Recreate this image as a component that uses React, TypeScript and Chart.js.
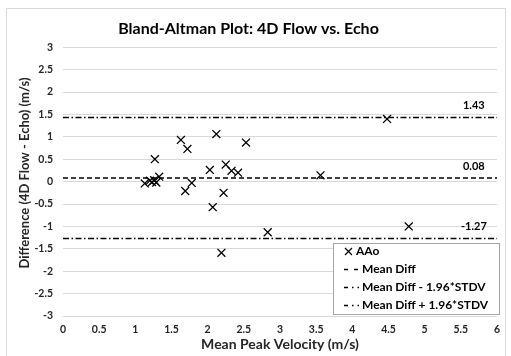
import React, { useEffect, useRef } from "react";
import { Chart, registerables } from "chart.js";
Chart.register(...registerables);

const meanVelocity = [1.13, 1.2, 1.23, 1.26, 1.27, 1.29, 1.33, 1.63, 1.69, 1.72, 1.78, 2.03, 2.07, 2.12, 2.19, 2.22, 2.25, 2.33, 2.42, 2.53, 2.83, 3.56, 4.48, 4.78];
const difference = [-0.04, 0.02, -0.01, 0.03, 0.5, -0.02, 0.11, 0.93, -0.21, 0.73, -0.03, 0.26, -0.57, 1.06, -1.59, -0.25, 0.38, 0.24, 0.2, 0.87, -1.13, 0.14, 1.4, -1.0];
const meanDiff = 0.08;
const lowerLimit = -1.27;
const upperLimit = 1.43;
const xRange = [0, 6];
const yRange = [-3, 3];
const legendLabels = ["AAo", "Mean Diff", "Mean Diff - 1.96*STDV", "Mean Diff + 1.96*STDV"];
const yTitle = "Difference (4D Flow - Echo) (m/s)";

const FONT = "Lato, 'Open Sans', sans-serif";
const DASH = [5, 3];
const DASHDOT = [6, 2.5, 1.5, 2.5];

const decorPlugin = {
  id: "decor",
  beforeDraw(chart: any) {
    const ctx = chart.ctx;
    ctx.save();
    ctx.fillStyle = "#ffffff";
    ctx.fillRect(0, 0, chart.width, chart.height);
    ctx.strokeStyle = "#d9d9d9";
    ctx.lineWidth = 1;
    ctx.strokeRect(6.5, 8.5, 499, 400);
    ctx.restore();
  },
  afterDatasetsDraw(chart: any) {
    const ctx = chart.ctx;
    const xs = chart.scales.x;
    const ys = chart.scales.y;
    ctx.save();
    ctx.font = `bold 11px ${FONT}`;
    ctx.fillStyle = "#000";
    ctx.textAlign = "center";
    ctx.textBaseline = "middle";
    [upperLimit, meanDiff, lowerLimit].forEach((v) => {
      const px = xs.getPixelForValue(5.68);
      const py = ys.getPixelForValue(v) - 12;
      ctx.fillText(v.toFixed(2), px, py);
    });
    ctx.restore();
  },
  afterDraw(chart: any) {
    const ctx = chart.ctx;
    ctx.save();
    ctx.font = `bold 13px ${FONT}`;
    ctx.fillStyle = "#262626";
    ctx.textAlign = "center";
    ctx.textBaseline = "middle";
    ctx.translate(25, 173);
    ctx.rotate(-Math.PI / 2);
    ctx.fillText(yTitle, 0, 0);
    ctx.restore();

    ctx.save();
    const bx = 333.5, by = 243.5, bw = 166, bh = 71;
    ctx.fillStyle = "#fff";
    ctx.fillRect(bx, by, bw, bh);
    ctx.strokeStyle = "#a6a6a6";
    ctx.lineWidth = 1;
    ctx.strokeRect(bx, by, bw, bh);
    ctx.font = `bold 12px ${FONT}`;
    ctx.fillStyle = "#000";
    ctx.textBaseline = "middle";
    ctx.textAlign = "left";
    const rows = [251.5, 269.5, 287.5, 305.5];
    ctx.strokeStyle = "#000";
    ctx.lineWidth = 1.2;
    const cx = 348.5, cy = rows[0], r = 3.5;
    ctx.beginPath();
    ctx.moveTo(cx - r, cy - r); ctx.lineTo(cx + r, cy + r);
    ctx.moveTo(cx + r, cy - r); ctx.lineTo(cx - r, cy + r);
    ctx.stroke();
    ctx.fillText(legendLabels[0], 356, rows[0]);
    const patterns = [[4, 6], [4, 4, 1.5, 4], [4, 4, 1.5, 4]];
    for (let i = 1; i < 4; i++) {
      ctx.lineWidth = 1.5;
      ctx.setLineDash(patterns[i - 1]);
      ctx.beginPath();
      ctx.moveTo(344, rows[i]);
      ctx.lineTo(359, rows[i]);
      ctx.stroke();
      ctx.setLineDash([]);
      ctx.fillText(legendLabels[i], 362, rows[i]);
    }
    ctx.restore();
  },
};

const fmt = (v: any) => String(Number(v));

export default function App() {
  const ref = useRef<HTMLCanvasElement>(null);
  useEffect(() => {
    if (!ref.current) return;
    const points = meanVelocity.map((x, i) => ({ x, y: difference[i] }));
    const hline = (v: number) => [{ x: xRange[0], y: v }, { x: xRange[1], y: v }];
    const chart = new Chart(ref.current, {
      type: "scatter",
      data: {
        datasets: [
          {
            label: legendLabels[0],
            data: points,
            pointStyle: "crossRot",
            pointRadius: 5.6,
            borderColor: "#000",
            backgroundColor: "#000",
            pointBorderWidth: 1.3,
            showLine: false,
          },
          {
            label: legendLabels[1],
            data: hline(meanDiff),
            showLine: true,
            borderColor: "#000",
            borderWidth: 1.5,
            borderDash: DASH,
            pointRadius: 0,
          },
          {
            label: legendLabels[2],
            data: hline(lowerLimit),
            showLine: true,
            borderColor: "#000",
            borderWidth: 1.5,
            borderDash: DASHDOT,
            pointRadius: 0,
          },
          {
            label: legendLabels[3],
            data: hline(upperLimit),
            showLine: true,
            borderColor: "#000",
            borderWidth: 1.5,
            borderDash: DASHDOT,
            pointRadius: 0,
          },
        ],
      } as any,
      options: {
        animation: false,
        responsive: false,
        devicePixelRatio: 1,
        layout: { padding: { left: 0, right: 14, top: 19, bottom: 0 } },
        plugins: {
          legend: { display: false },
          tooltip: { enabled: false },
          title: {
            display: true,
            text: "Bland-Altman Plot: 4D Flow vs. Echo",
            color: "#000",
            font: { family: FONT, size: 16, weight: "bold" },
            padding: { top: 0, bottom: 9 },
          },
        },
        scales: {
          x: {
            type: "linear",
            min: xRange[0],
            max: xRange[1],
            border: { display: false },
            grid: { display: false, drawTicks: false },
            ticks: {
              stepSize: 0.5,
              padding: 7,
              color: "#262626",
              callback: fmt,
              font: { family: FONT, size: 10.5, weight: "bold" },
            },
            title: {
              display: true,
              text: "Mean Peak Velocity (m/s)",
              color: "#262626",
              font: { family: FONT, size: 14, weight: "bold" },
              padding: { top: 0, bottom: 3 },
            },
            afterFit: (s: any) => { s.height = 40; },
          },
          y: {
            type: "linear",
            min: yRange[0],
            max: yRange[1],
            border: { display: false },
            grid: { color: "#d9d9d9", drawTicks: false },
            ticks: {
              stepSize: 0.5,
              padding: 10,
              color: "#262626",
              callback: fmt,
              font: { family: FONT, size: 10.5, weight: "bold" },
            },
            title: { display: false },
            afterFit: (s: any) => { s.width = 63; },
          },
        },
      } as any,
      plugins: [decorPlugin],
    });
    return () => chart.destroy();
  }, []);
  return (
    <canvas
      ref={ref}
      width={511}
      height={356}
      style={{ position: "absolute", left: 0, top: 0, width: 511, height: 356 }}
    />
  );
}
